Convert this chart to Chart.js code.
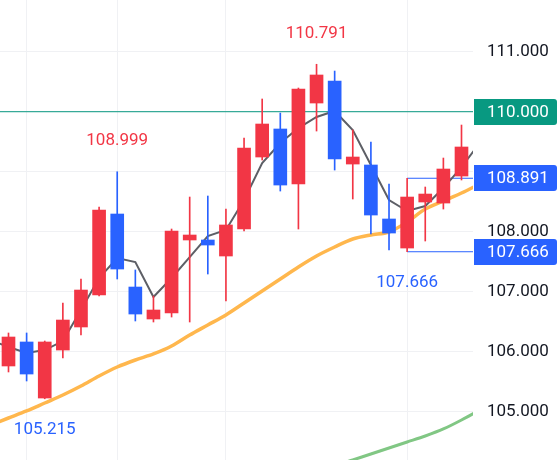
<!DOCTYPE html>
<html lang="en">
<head>
<meta charset="UTF-8">
<title>Candles</title>
<script src="https://cdn.jsdelivr.net/npm/chart.js"></script>
<style>
    html, body { margin: 0; padding: 0; background: #fff; }
    #wrap { width: 559px; height: 460px; }
</style>
</head>
<body>
<div id="wrap"><canvas id="chart"></canvas></div>
<script>
    // candles, index 0..25
    const opens  = [105.762,106.162,105.228,106.028,106.412,106.945,108.295,107.078,106.545,106.645,107.862,107.862,107.595,108.045,109.245,109.712,108.795,110.145,110.512,109.128,109.112,108.212,107.728,108.495,108.478,108.928];
    const highs  = [106.312,106.312,106.178,106.812,107.212,108.412,108.999,107.362,106.928,108.045,108.578,108.595,108.378,109.562,110.212,109.978,110.395,110.791,110.678,109.695,109.495,108.795,108.891,108.745,109.228,109.778];
    const lows   = [105.662,105.512,105.215,105.895,106.278,106.928,107.212,106.512,106.495,106.578,106.495,107.295,106.845,108.012,109.195,108.678,108.045,109.678,109.028,108.545,107.962,107.695,107.666,107.845,108.378,108.862];
    const closes = [106.245,105.628,106.162,106.528,107.028,108.362,107.378,106.628,106.695,108.012,107.945,107.778,108.112,109.395,109.795,108.778,110.378,110.612,109.212,109.245,108.278,107.978,108.578,108.628,109.045,109.412];

    // moving averages, index -1..26
    const maStart = -1;
    const maFast = [106.195,106.078,105.978,106.028,106.178,106.695,107.228,107.562,107.495,106.912,107.228,107.578,107.928,108.028,108.528,109.145,109.478,109.728,109.912,110.012,109.695,109.112,108.528,108.345,108.428,108.728,109.078,109.478];
    const maMid  = [104.778,104.895,105.012,105.145,105.278,105.428,105.595,105.745,105.862,105.962,106.095,106.278,106.445,106.612,106.812,107.012,107.212,107.412,107.595,107.745,107.878,107.945,107.995,108.162,108.378,108.512,108.645,108.795];
    const maSlow = [null,null,null,null,null,null,null,null,null,null,null,null,null,null,null,null,null,103.795,103.895,104.095,104.195,104.295,104.395,104.495,104.595,104.712,104.862,105.028];

    const yTicks = [105, 106, 107, 108, 109, 110, 111];
    const hiddenTicks = [109];
    const timeGrid = [1, 6, 12, 22];

    const targetLine = 110.000;
    const rangeHigh = 108.891;
    const rangeLow = 107.666;
    const rangeFrom = 22;

    // labelled extremes: [candle index, value, 'high' | 'low']
    const marks = [[17, 110.791, 'high'], [6, 108.999, 'high'], [2, 105.215, 'low'], [22, 107.666, 'low']];

    const RED = '#F23645', BLUE = '#2962FF', TEAL = '#089981';
    const FONT = 'Roboto, "Noto Sans", sans-serif';

    const idx = opens.map((_, i) => i);
    const candleColor = idx.map(i => closes[i] >= opens[i] ? RED : BLUE);
    const wicks = idx.map(i => ({ x: i, y: [lows[i], highs[i]] }));
    const bodies = idx.map(i => ({ x: i, y: [Math.min(opens[i], closes[i]), Math.max(opens[i], closes[i])] }));
    const toPts = arr => arr.map((v, k) => ({ x: k + maStart, y: v })).filter(p => p.y !== null);

    const X_MIN = -0.469, X_MAX = 25.635;

    const boxPlugin = {
        id: 'boxes',
        afterDatasetsDraw(chart) {
            const ctx = chart.ctx, xs = chart.scales.x, ys = chart.scales.y;
            ctx.save();
            ctx.font = '17px ' + FONT;
            ctx.textAlign = 'center';
            ctx.textBaseline = 'middle';
            marks.forEach(([i, v, kind]) => {
                const px = xs.getPixelForValue(i);
                const py = ys.getPixelForValue(v) + (kind === 'high' ? -31 : 31);
                ctx.fillStyle = kind === 'high' ? RED : BLUE;
                ctx.fillText(v.toFixed(3), px, py);
            });
            ctx.restore();
        },
        afterDraw(chart) {
            const ctx = chart.ctx, ys = chart.scales.y;
            const left = chart.chartArea.right + 1;
            ctx.save();
            [[targetLine, TEAL], [rangeHigh, BLUE], [rangeLow, BLUE]].forEach(([v, c]) => {
                const py = Math.round(ys.getPixelForValue(v));
                ctx.fillStyle = c;
                ctx.beginPath();
                ctx.roundRect(left, py - 13, 83, 26, [0, 3, 3, 0]);
                ctx.fill();
                ctx.fillStyle = '#fff';
                ctx.font = '17px ' + FONT;
                ctx.textAlign = 'left';
                ctx.textBaseline = 'middle';
                ctx.fillText(v.toFixed(3), left + 13, py + 1);
            });
            ctx.restore();
        }
    };

    new Chart(document.getElementById('chart'), {
        type: 'bar',
        data: {
            datasets: [
                { type: 'line', data: [{ x: X_MIN - 1, y: targetLine }, { x: X_MAX + 1, y: targetLine }], borderColor: TEAL, borderWidth: 1, pointRadius: 0, order: 5, clip: 0 },
                { type: 'line', data: [{ x: rangeFrom, y: rangeHigh }, { x: X_MAX + 1, y: rangeHigh }], borderColor: BLUE, borderWidth: 1, pointRadius: 0, order: 5, clip: 0 },
                { type: 'line', data: [{ x: rangeFrom, y: rangeLow }, { x: X_MAX + 1, y: rangeLow }], borderColor: BLUE, borderWidth: 1, pointRadius: 0, order: 5, clip: 0 },
                { type: 'line', data: toPts(maSlow), borderColor: '#81C784', borderWidth: 3, pointRadius: 0, tension: 0.3, order: 4, clip: 0 },
                { type: 'line', data: toPts(maMid), borderColor: '#FFB74D', borderWidth: 3.5, pointRadius: 0, tension: 0.3, order: 4, clip: 0 },
                { type: 'line', data: toPts(maFast), borderColor: '#5d5f66', borderWidth: 2, pointRadius: 0, tension: 0, order: 3, clip: 0 },
                { data: wicks, backgroundColor: candleColor, barThickness: 1, grouped: false, borderWidth: 0, order: 2, clip: 0 },
                { data: bodies, backgroundColor: candleColor, barThickness: 13, grouped: false, borderWidth: 0, minBarLength: 2, order: 1, clip: 0 }
            ]
        },
        options: {
            responsive: true,
            maintainAspectRatio: false,
            animation: false,
            layout: { padding: 0 },
            plugins: { legend: { display: false }, tooltip: { enabled: false } },
            scales: {
                x: {
                    type: 'linear',
                    min: X_MIN,
                    max: X_MAX,
                    offset: false,
                    grid: { color: '#f0f1f4', drawTicks: false, offset: false },
                    border: { display: false },
                    ticks: { display: false },
                    afterBuildTicks: s => { s.ticks = timeGrid.map(v => ({ value: v })); },
                    afterFit: s => { s.height = 0; s.paddingLeft = 0; s.paddingRight = 0; }
                },
                y: {
                    position: 'right',
                    min: 104.195,
                    max: 111.862,
                    grid: { color: '#f0f1f4', drawTicks: false, tickLength: 0 },
                    border: { display: false },
                    afterBuildTicks: s => { s.ticks = yTicks.map(v => ({ value: v })); },
                    afterFit: s => { s.width = 86; s.paddingTop = 0; s.paddingBottom = 0; },
                    ticks: {
                        padding: 14,
                        color: '#131722',
                        font: { family: FONT, size: 17 },
                        callback: v => hiddenTicks.includes(v) ? '' : v.toFixed(3)
                    }
                }
            }
        },
        plugins: [boxPlugin]
    });
</script>
</body>
</html>
